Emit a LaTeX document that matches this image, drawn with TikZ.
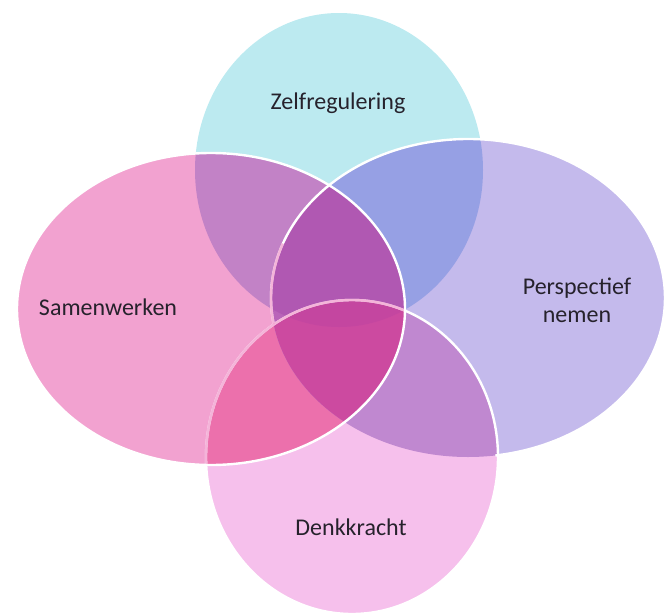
\documentclass[tikz,border=0pt]{standalone}
\usepackage{fontspec}
\setmainfont{Carlito}
\usetikzlibrary{positioning}

% single areas
\definecolor{zelfcol}{RGB}{188,234,240}
\definecolor{samencol}{RGB}{242,162,208}
\definecolor{perscol}{RGB}{196,186,236}
\definecolor{denkcol}{RGB}{246,192,236}
% overlaps
\definecolor{zscol}{RGB}{194,130,198}
\definecolor{zpcol}{RGB}{150,160,228}
\definecolor{spcol}{RGB}{185,100,185}
\definecolor{sdcol}{RGB}{236,112,172}
\definecolor{pdcol}{RGB}{192,136,208}
\definecolor{zspcol}{RGB}{176,88,178}
\definecolor{spdcol}{RGB}{204,74,160}
\definecolor{allcol}{RGB}{196,70,160}
\definecolor{labelcol}{RGB}{38,34,44}

\newcommand\zelfshape{(339,170) ellipse (144 and 157)}
\newcommand\samenshape{(211,309) ellipse (194 and 156)}
\newcommand\persshape{(468,298) ellipse (197 and 159)}
\newcommand\denkshape{(352,457) ellipse (146 and 157)}

\tikzset{
    rim/.style={draw=white, line width=2.4pt},
    label/.style={text=labelcol, font=\fontsize{24}{28}\selectfont, align=center}
}

\begin{document}
\begin{tikzpicture}[x=1pt, y=-1pt]
    \useasboundingbox (0,0) rectangle (667,616);

    % Single areas
    \fill[zelfcol] \zelfshape;
    \fill[perscol] \persshape;
    \fill[denkcol] \denkshape;
    \fill[samencol] \samenshape;

    % Two at a time
    \begin{scope} \clip \zelfshape; \fill[zscol] \samenshape; \fill[zpcol] \persshape; \end{scope}
    \begin{scope} \clip \samenshape; \fill[spcol] \persshape; \fill[sdcol] \denkshape; \end{scope}
    \begin{scope} \clip \persshape; \fill[pdcol] \denkshape; \end{scope}

    % Three and four at a time
    \begin{scope} \clip \zelfshape; \clip \samenshape; \fill[zspcol] \persshape; \end{scope}
    \begin{scope} \clip \samenshape; \clip \persshape; \fill[spdcol] \denkshape; \end{scope}
    \begin{scope} \clip \zelfshape; \clip \samenshape; \clip \persshape; \fill[allcol] \denkshape; \end{scope}

    % Rims
    \draw[rim] (468,298) ++(170.5:197 and 159) arc[start angle=170.5, end angle=442, x radius=197, y radius=159];
    \draw[rim] \denkshape;
    \begin{scope}
        \clip \samenshape;
        \draw[rim, draw=samencol, opacity=0.8] (468,298) ++(170.5:197 and 159) arc[start angle=170.5, end angle=200, x radius=197, y radius=159];
        \draw[rim, draw=samencol, opacity=0.8] \denkshape;
    \end{scope}
    \draw[rim] \samenshape;

    % Labels
    \node[label] (zelf) at (338,103) {Zelfregulering};
    \node[label] (samen) at (108,307) {Samenwerken};
    \node[label] (pers) at (577,300) {Perspectief\\nemen};
    \node[label] (denk) at (351,527) {Denkkracht};
\end{tikzpicture}
\end{document}
